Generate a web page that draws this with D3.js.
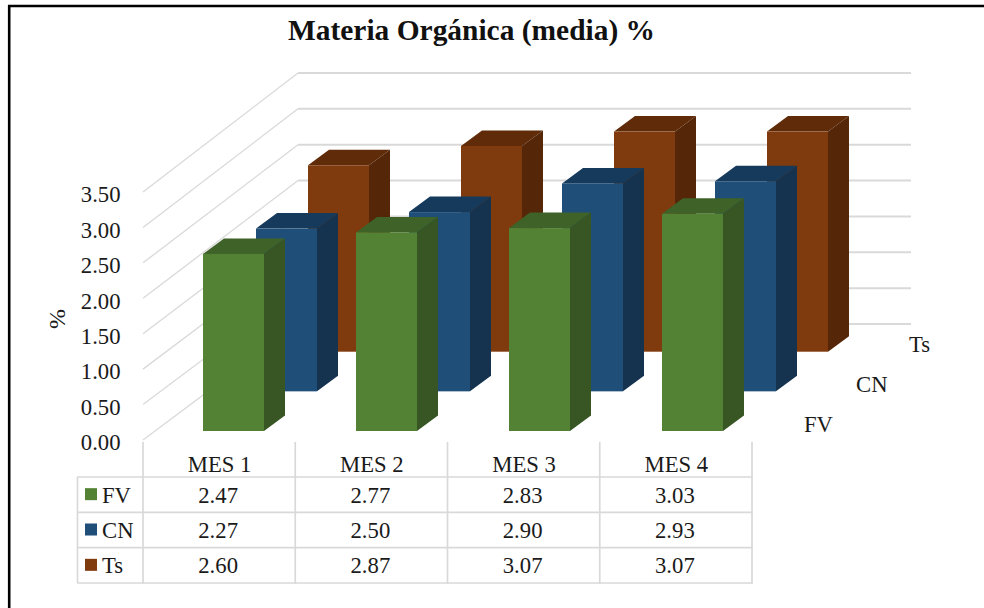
<!DOCTYPE html>
<html><head><meta charset="utf-8">
<script src="https://cdn.jsdelivr.net/npm/d3@7"></script>
<style>html,body{margin:0;padding:0;background:#fff}svg{display:block}text{font-family:"Liberation Serif",serif;fill:#1a1a1a}</style>
</head><body><svg id="c" width="984" height="608"></svg>
<script>
const title = "Materia Orgánica (media) %";
const yLabel = "%";
const months = ["MES 1","MES 2","MES 3","MES 4"];
const seriesNames = ["FV","CN","Ts"];
const FV = [2.47,2.77,2.83,3.03];
const CN = [2.27,2.50,2.90,2.93];
const Ts = [2.60,2.87,3.07,3.07];
const yTicks = [0,0.5,1,1.5,2,2.5,3,3.5];
const seriesValues = [FV,CN,Ts];
const colors = {FV:["#548235","#3f6228","#375623"],CN:["#1f4e79","#163a5c","#15334f"],Ts:["#7f3a0d","#5f2b08","#552608"]};

const svg = d3.select("#c");
const grid = "#d9d9d9";
const fs = 22.7;
// frame
svg.append("path").attr("d","M9.2,608V6H984").attr("fill","none").attr("stroke","#000").attr("stroke-width",2.6);
svg.append("text").attr("x",471.5).attr("y",40).attr("text-anchor","middle").attr("font-size",29.45).attr("font-weight","bold").style("fill","#111").text(title);

const yFront = d3.scaleLinear().domain([0,3.5]).range([440,192]);
const yBack = d3.scaleLinear().domain([0,3.5]).range([324,73]);
const xFront = 143, xBack = 298, xEnd = 911;
const gridG = svg.append("g").attr("fill","none").attr("stroke",grid);
gridG.selectAll("path.o").data(yTicks).join("path").attr("class","o")
  .attr("stroke-width",1.3)
  .attr("d",t=>d3.line()([[xFront,yFront(t)],[xBack,yBack(t)]]));
gridG.selectAll("path.h").data(yTicks).join("path").attr("class","h")
  .attr("stroke-width",2)
  .attr("d",t=>d3.line()([[xBack,yBack(t)],[xEnd,yBack(t)]]));

// y axis labels
const yAxis = d3.axisLeft(yFront).tickValues(yTicks).tickFormat(d3.format(".2f")).tickSize(0).tickPadding(0);
const yG = svg.append("g").attr("transform","translate(120.5,2.5)").call(yAxis);
yG.select(".domain").remove();
yG.selectAll("text").attr("font-size",fs).attr("font-family",null);
svg.append("text").attr("transform","translate(65,319) rotate(-90)").attr("text-anchor","middle").attr("font-size",24).text(yLabel);

// bars: series depth runs back along an oblique axis
const xCat = d3.scalePoint().domain(months).range([203,662]);
const sDepth = d3.scalePoint().domain(seriesNames).range([0,1]);
const barW = 61, depthX = 21, depthY = 15.5;
const base = d3.scaleLinear().domain([0,1]).range([431,351.7]);
const shift = d3.scaleLinear().domain([0,1]).range([0,105]);
const hUnit = d3.scaleLinear().domain([0,1]).range([0,71.7]);
const pts = a=>a.map(p=>p.join(",")).join(" ");
[2,1,0].forEach(si=>{
  const name = seriesNames[si], c = colors[name], d = sDepth(name);
  const g = svg.append("g");
  seriesValues[si].forEach((v,i)=>{
    const x0 = Math.round(xCat(months[i])+shift(d)), x1 = x0+barW, b = base(d), t = b-hUnit(v);
    g.append("polygon").attr("points",pts([[x0,t],[x0+depthX,t-depthY],[x1+depthX,t-depthY],[x1,t]])).attr("fill",c[1]);
    g.append("polygon").attr("points",pts([[x1,t],[x1+depthX,t-depthY],[x1+depthX,b-depthY],[x1,b]])).attr("fill",c[2]);
    g.append("rect").attr("x",x0).attr("y",t).attr("width",barW).attr("height",b-t).attr("fill",c[0]);
  });
});

// series axis labels
const depthLabels = [[804,432],[856,392],[909,352]];
seriesNames.forEach((n,i)=>svg.append("text").attr("x",depthLabels[i][0]).attr("y",depthLabels[i][1]).attr("font-size",fs).text(n));

// data table
const colX = d3.scaleBand().domain(months).range([143,752]);
const rowY = d3.scaleBand().domain(seriesNames).range([477,583]);
const tg = svg.append("g").attr("stroke",grid).attr("stroke-width",1.7);
[143,...months.map(m=>colX(m)+colX.bandwidth())].forEach(x=>tg.append("line").attr("x1",x).attr("x2",x).attr("y1",442).attr("y2",583.8));
tg.append("line").attr("x1",77.5).attr("x2",77.5).attr("y1",477).attr("y2",583);
[477,...seriesNames.map(n=>rowY(n)+rowY.bandwidth())].forEach(y=>tg.append("line").attr("x1",77).attr("x2",752.8).attr("y1",y).attr("y2",y));
months.forEach(m=>svg.append("text").attr("x",colX(m)+colX.bandwidth()/2+0.5).attr("y",472).attr("text-anchor","middle").attr("font-size",fs).text(m));
seriesNames.forEach((n,si)=>{
  const cy = rowY(n)+rowY.bandwidth()/2;
  svg.append("rect").attr("x",85).attr("y",cy-6.5).attr("width",12).attr("height",12).attr("fill",colors[n][0]);
  svg.append("text").attr("x",102).attr("y",cy+8).attr("font-size",fs).text(n);
  months.forEach((m,i)=>svg.append("text").attr("x",colX(m)+colX.bandwidth()/2-1).attr("y",cy+8).attr("text-anchor","middle").attr("font-size",fs).text(seriesValues[si][i].toFixed(2)));
});
</script></body></html>
